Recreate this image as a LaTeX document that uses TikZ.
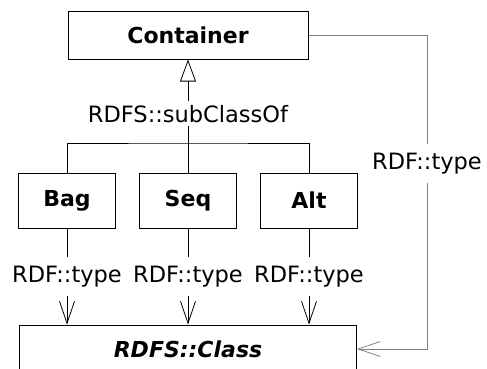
\documentclass[tikz,border=0pt]{standalone}
\usepackage{fontspec}
\setmainfont{DejaVu Sans}
\usetikzlibrary{arrows.meta, positioning}
\definecolor{grisLinea}{HTML}{7F7F7F}

\begin{document}
\begin{tikzpicture}[x=1pt, y=-1pt,
        cls/.style={draw, line width=1pt, inner sep=0pt, minimum height=48pt,
            font=\fontsize{22}{24}\selectfont\bfseries},
        sub/.style={cls, minimum width=97pt, minimum height=55pt},
        lbl/.style={fill=white, inner xsep=1pt, inner ysep=9pt,
            font=\fontsize{22.5}{24}\selectfont},
        gen/.style={-{Triangle[open, length=22pt, width=16pt]}, line width=0.8pt},
        inst/.style={-{Straight Barb[length=22pt, width=15pt]}, line width=0.8pt},
        node distance=23pt
    ]
        \useasboundingbox (0,0) rectangle (487,368);
        \clip (0,0) rectangle (487,368);
        \node[cls, minimum width=240pt] (cont) at (188,35) {Container};
        \node[sub, below=113pt of cont] (seq) {Seq};
        \node[sub, left=of seq] (bag) {Bag};
        \node[sub, right=of seq] (alt) {Alt};
        \node[cls, minimum width=337pt, below=96pt of seq, font=\fontsize{22}{24}\selectfont\bfseries\itshape] (rcls) {RDFS::Class};
        \coordinate (bus) at (188,143);
        \coordinate (bend) at (427,35);

        \draw[gen] (bus) -- node[lbl, inner ysep=4pt, pos=0.35]{RDFS::subClassOf} (cont.south);
        \draw[line width=1pt] (bag.north) |- (bus) -| (alt.north);
        \draw[line width=1pt] (seq.north) -- (bus);
        \draw[inst] (bag.south) -- node[lbl]{RDF::type} (bag.south |- rcls.north);
        \draw[inst] (seq.south) -- node[lbl]{RDF::type} (rcls.north);
        \draw[inst] (alt.south) -- node[lbl]{RDF::type} (alt.south |- rcls.north);
        \draw[inst, grisLinea] (cont.east) -- (bend) |- node[lbl, text=black, pos=0.205]{RDF::type} (rcls.east);
    \end{tikzpicture}
\end{document}
